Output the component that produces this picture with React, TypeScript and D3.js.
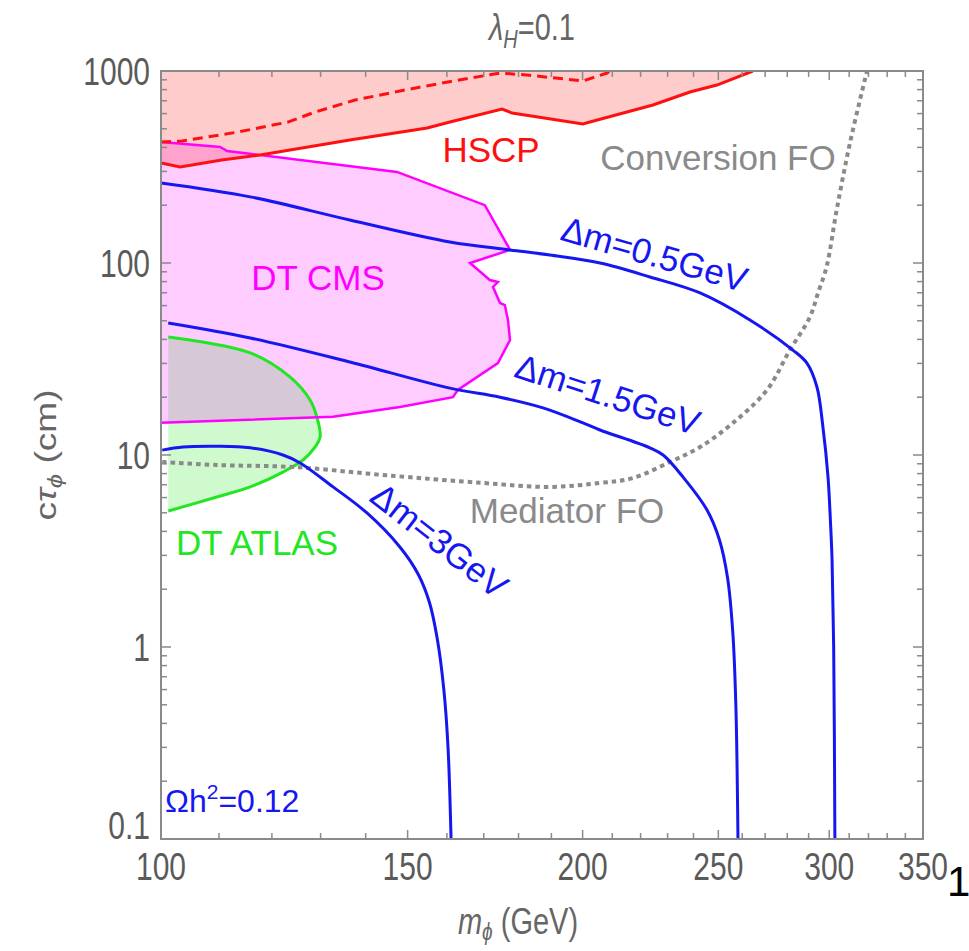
import * as d3 from "d3";

type P = [number, number];

// values: [m_phi (GeV), c tau (cm)]
const hscpLimit: P[] = [
  [100, 332], [103.2, 316], [110.5, 344], [117.7, 365], [136.4, 437], [154.9, 505],
  [160.8, 542], [175.2, 634], [178.1, 604], [200.1, 530], [202.4, 542], [224.5, 665],
  [238.6, 777], [249.4, 845], [264.6, 1000],
];
const hscpDashed: P[] = [
  [100, 427], [103.5, 432], [113.5, 481], [123.2, 542], [128.8, 611], [137.6, 706],
  [149.3, 796], [160.3, 877], [174.6, 976], [182.5, 953], [200.1, 887], [208.2, 976],
  [209.2, 1000],
];
const dtCms: P[] = [
  [100, 427], [110.2, 402], [111.5, 383], [147.4, 298], [170.3, 200], [177.5, 117],
  [166.2, 100], [171.7, 81.5], [174, 79.6], [172.6, 75], [174.6, 61.9], [176, 60.4],
  [176.9, 50.5], [177.5, 39.7], [174, 30.1], [162.9, 21.8], [161.6, 20], [148.1, 17.8],
  [132.7, 15.8], [100, 14.7],
];
const dtAtlas: P[] = [
  [101.2, 41.2], [115.8, 34], [123.6, 25.5], [127.8, 19.3], [129.2, 15.8], [129.9, 12.4],
  [128.8, 11], [126.3, 9.42], [122.2, 8.15], [115.8, 6.82], [109.6, 6.04], [101.2, 5.11],
];
const dm05: P[] = [
  [100, 261], [115.8, 221], [136.4, 167.5], [160.8, 128.7], [177.5, 117], [189.5, 110],
  [205.8, 100], [223.4, 84.6], [242.6, 69.8], [263.3, 50.5], [282.6, 35.2], [289.2, 30.1],
  [294, 22.6], [296.9, 14], [299.4, 7.68], [300.6, 4.5], [301.4, 2.84], [302.2, 1.0],
  [302.8, 0.1],
];
const dm15: P[] = [
  [101.2, 48.7], [115.8, 40.7], [136.4, 30.5], [160.8, 22.3], [174.6, 20], [187.4, 17.6],
  [200.1, 14.7], [205.8, 13.5], [223.4, 10.9], [228.3, 10], [235.9, 7.68], [245.4, 5.17],
  [250.5, 3.6], [253.8, 2.3], [256, 1.2], [257.3, 0.5], [258.2, 0.1],
];
const dm3: P[] = [
  [100.2, 10.6], [103.7, 11.0], [109.6, 11.1], [115.8, 10.9], [122.2, 10], [125.7, 9.09],
  [132.7, 6.82], [140.3, 4.99], [148.1, 3.32], [152.6, 2.4], [155.5, 1.7], [157.5, 1.1],
  [159.2, 0.6], [160.3, 0.3], [161.1, 0.1],
];
const mediatorFO: P[] = [
  [100.2, 9.2], [109.6, 8.87], [124.2, 8.66], [144, 7.87], [169.8, 7.15], [189.5, 6.82],
  [205.8, 7.15], [217.3, 7.59], [230.9, 9.2], [242.6, 11], [256.1, 14.7], [270.8, 21.8],
  [281.2, 35.2], [290.6, 52.3], [294.5, 69.8], [298.7, 95.7], [303.7, 189], [310.4, 422],
  [319.2, 1000],
];
const xTickLabels = [100, 150, 200, 250, 300, 350];
const yTickLabels = [0.1, 1, 10, 100, 1000];

const W = 969, H = 951;
const LEFT = 161, RIGHT = 923, TOP = 71, BOTTOM = 839;

const BLUE = "#1616f0";
const GRAY = "#8a8a8a";
const FONT = "'Liberation Sans', Arial, sans-serif";
const STRETCH = 1.28; // the figure's text is drawn taller than it is wide

export default function App() {
  const x = d3.scaleLog().domain([100, 350]).range([LEFT, RIGHT]);
  const y = d3.scaleLog().domain([0.1, 1000]).range([BOTTOM, TOP]);

  const straight = d3.line<P>().x((d) => x(d[0])).y((d) => y(d[1]));
  const smooth = d3.line<P>().x((d) => x(d[0])).y((d) => y(d[1])).curve(d3.curveCatmullRom.alpha(0.5));

  const hscpArea = straight([[100, 1000], ...hscpLimit, [264.6, 1000]]) + "Z";

  const xTicks = d3.range(100, 351, 10);
  const yTicks: number[] = [];
  [0.1, 1, 10, 100].forEach((d) => d3.range(1, 10).forEach((k) => yTicks.push(d * k)));
  yTicks.push(1000);

  const labelStyle = { fontFamily: FONT, fontSize: 35 } as const;
  const tall = (tx: number, ty: number, rot = 0) =>
    `translate(${tx},${ty}) rotate(${rot}) scale(1,${STRETCH})`;

  return (
    <svg width={W} height={H} style={{ position: "absolute", left: 0, top: 0, background: "#fff" }}>
      <defs>
        <clipPath id="frame">
          <rect x={LEFT} y={TOP} width={RIGHT - LEFT} height={BOTTOM - TOP} />
        </clipPath>
      </defs>

      <g clipPath="url(#frame)">
        {/* filled exclusion regions */}
        <path d={smooth(dtAtlas) + "Z"} fill="#22e622" fillOpacity={0.22} />
        <path d={straight(dtCms) + "Z"} fill="#ff00ff" fillOpacity={0.2} />
        <path d={hscpArea} fill="#ff0000" fillOpacity={0.2} />

        <path d={smooth(dtAtlas)!} fill="none" stroke="#22e622" strokeWidth={3} />
        <path d={straight(dtCms)!} fill="none" stroke="#ff00ff" strokeWidth={2.5} />
        <path d={straight(hscpLimit)!} fill="none" stroke="#ff1010" strokeWidth={3} />
        <path d={straight(hscpDashed)!} fill="none" stroke="#ff1010" strokeWidth={3} strokeDasharray="10,6" />

        <path d={smooth(mediatorFO)!} fill="none" stroke={GRAY} strokeWidth={4} strokeDasharray="4.5,4" />

        {[dm05, dm15, dm3].map((d, i) => (
          <path key={i} d={smooth(d)!} fill="none" stroke={BLUE} strokeWidth={3} />
        ))}
      </g>

      {/* frame and ticks */}
      <rect x={LEFT} y={TOP} width={RIGHT - LEFT} height={BOTTOM - TOP} fill="none" stroke={GRAY} strokeWidth={2} />
      {xTicks.map((t) => {
        const len = t % 50 === 0 ? 9 : 6;
        return (
          <g key={"x" + t} stroke={GRAY} strokeWidth={1.5}>
            <line x1={x(t)} x2={x(t)} y1={BOTTOM} y2={BOTTOM - len} />
            <line x1={x(t)} x2={x(t)} y1={TOP} y2={TOP + len} />
          </g>
        );
      })}
      {yTicks.map((t, i) => {
        const len = yTickLabels.includes(+t.toPrecision(3)) ? 10 : 6;
        return (
          <g key={"y" + i} stroke={GRAY} strokeWidth={1.5}>
            <line x1={LEFT} x2={LEFT + len} y1={y(t)} y2={y(t)} />
            <line x1={RIGHT} x2={RIGHT - len} y1={y(t)} y2={y(t)} />
          </g>
        );
      })}

      {/* tick labels */}
      <g fontFamily={FONT} fontSize={30} fill="#5a5a5a">
        {xTickLabels.map((t) => (
          <text key={t} transform={tall(x(t), 880)} textAnchor="middle">{t}</text>
        ))}
        {yTickLabels.map((t) => (
          <text key={t} transform={tall(150, y(t) + (t === 0.1 ? 0 : 14))} textAnchor="end">{t}</text>
        ))}
      </g>

      {/* title and axis titles */}
      <text transform={tall(532, 40)} textAnchor="middle" fontFamily={FONT} fontSize={29} fill="#666">
        <tspan fontStyle="italic">λ</tspan>
        <tspan fontStyle="italic" fontSize={20} dy={6}>H</tspan>
        <tspan dy={-6}>=0.1</tspan>
      </text>
      <text transform={tall(518, 934)} textAnchor="middle" fontFamily={FONT} fontSize={29} fill="#666">
        <tspan fontStyle="italic">m</tspan>
        <tspan fontStyle="italic" fontSize={19} dy={5}>ϕ</tspan>
        <tspan dy={-5}> (GeV)</tspan>
      </text>
      <text transform={`translate(56,455) rotate(-90) scale(${STRETCH},1)`} textAnchor="middle" fontFamily={FONT} fontSize={29} fill="#666">
        <tspan>c</tspan>
        <tspan fontStyle="italic">τ</tspan>
        <tspan fontStyle="italic" fontSize={20} dy={6}>ϕ</tspan>
        <tspan dy={-6}> (cm)</tspan>
      </text>

      {/* region and curve labels */}
      <text x={491} y={162} textAnchor="middle" fill="#ff1010" style={labelStyle}>HSCP</text>
      <text x={718} y={170} textAnchor="middle" fill={GRAY} style={labelStyle}>Conversion FO</text>
      <text x={318} y={290} textAnchor="middle" fill="#ff00ff" style={labelStyle}>DT CMS</text>
      <text x={567} y={523} textAnchor="middle" fill={GRAY} style={labelStyle}>Mediator FO</text>
      <text x={257} y={555} textAnchor="middle" fill="#22e622" style={labelStyle}>DT ATLAS</text>
      <text transform="translate(651,266) rotate(16)" textAnchor="middle" fill={BLUE} style={labelStyle}>Δm=0.5GeV</text>
      <text transform="translate(604,406) rotate(18)" textAnchor="middle" fill={BLUE} style={labelStyle}>Δm=1.5GeV</text>
      <text transform="translate(432,550) rotate(38)" textAnchor="middle" fill={BLUE} style={labelStyle}>Δm=3GeV</text>
      <text x={165} y={812} fill={BLUE} fontFamily={FONT} fontSize={32}>
        Ωh<tspan fontSize={21} dy={-13}>2</tspan><tspan dy={13}>=0.12</tspan>
      </text>

      {/* stray page number fragment at the right edge */}
      <text x={947} y={896} fill="#000" fontFamily={FONT} fontSize={42}>1</text>
    </svg>
  );
}
